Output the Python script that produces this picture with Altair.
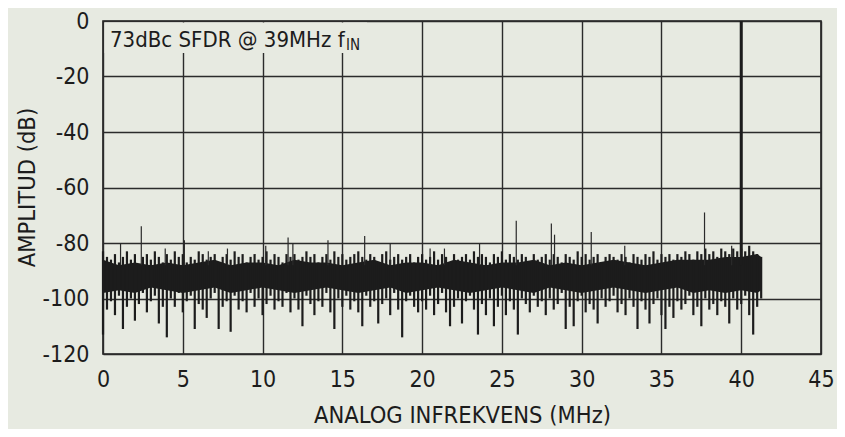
import altair as alt
import pandas as pd

# ---------------- data ----------------
# noise envelope per 0.25 MHz bin, 0 ... 41.25 MHz
noise_hi = [
    -83, -85, -86, -84, -87, -85, -83, -86, -84, -88, -85, -84, -86, -83, -85, -87,
    -84, -86, -83, -85, -84, -87, -85, -86, -83, -84, -86, -85, -84, -87, -85, -84,
    -86, -83, -85, -84, -87, -85, -84, -86, -85, -83, -86, -84, -85, -87, -84, -85,
    -84, -86, -85, -83, -85, -84, -87, -85, -84, -86, -83, -85, -84, -86, -85, -84,
    -83, -85, -86, -84, -85, -87, -84, -83, -86, -85, -84, -86, -85, -84, -87, -85,
    -84, -86, -85, -83, -86, -84, -85, -87, -84, -86, -85, -84, -86, -83, -85, -84,
    -85, -87, -84, -85, -83, -86, -84, -85, -86, -84, -85, -87, -84, -86, -85, -84,
    -86, -84, -85, -87, -84, -85, -86, -83, -85, -84, -86, -85, -84, -87, -85, -84,
    -85, -86, -84, -85, -87, -84, -85, -86, -84, -85, -83, -86, -84, -85, -84, -86,
    -84, -85, -83, -84, -86, -83, -84, -82, -84, -83, -85, -82, -83, -84, -82, -83,
    -82, -83, -81, -83, -84, -85,
]
noise_lo = [
    -113, -104, -101, -106, -99, -111, -103, -100, -108, -102, -98, -105, -101, -99, -109, -103,
    -114, -100, -103, -98, -105, -101, -99, -111, -102, -104, -107, -100, -98, -111, -103, -101,
    -112, -99, -104, -101, -105, -98, -103, -100, -106, -102, -99, -104, -101, -103, -98, -105,
    -100, -104, -110, -99, -102, -106, -101, -103, -98, -105, -111, -100, -103, -99, -104, -101,
    -105, -110, -99, -103, -101, -109, -102, -100, -106, -98, -104, -114, -101, -99, -103, -105,
    -101, -104, -99, -106, -102, -98, -105, -110, -103, -100, -109, -101, -99, -104, -113, -102,
    -106, -100, -110, -103, -99, -106, -101, -104, -113, -100, -102, -105, -99, -103, -101, -106,
    -100, -104, -102, -98, -111, -103, -110, -101, -99, -105, -102, -104, -109, -100, -103, -101,
    -99, -105, -102, -106, -100, -103, -111, -101, -104, -109, -102, -100, -106, -111, -103, -107,
    -101, -104, -102, -99, -106, -103, -110, -100, -104, -102, -106, -101, -103, -109, -100, -104,
    -102, -99, -106, -113, -103, -100,
]
noise_freq = [i * 0.25 for i in range(len(noise_hi))]

# dense core of the noise floor (1 MHz steps, last point at 41.25 MHz)
core_freq = list(range(0, 42)) + [41.25]
core_top = [-86, -88, -87, -88, -87, -88, -87, -86, -88, -87, -87, -88, -86, -87, -87, -88,
            -87, -86, -88, -87, -87, -88, -86, -87, -88, -87, -87, -86, -88, -87, -88, -87,
            -86, -87, -88, -87, -86, -86, -86, -85, -85, -84, -85]
core_bot = [-98, -97, -98, -96, -97, -98, -97, -96, -98, -97, -96, -97, -98, -97, -96, -97,
            -98, -97, -96, -98, -97, -96, -97, -98, -97, -96, -97, -98, -96, -97, -98, -97,
            -96, -97, -98, -97, -96, -98, -97, -98, -97, -98, -97]

# spurs rising above the noise floor
spike_freq = [1.1, 2.4, 3.9, 5.1, 6.6, 7.8, 10.2, 11.6, 11.9, 14.1, 16.4, 18.0,
              20.5, 21.4, 23.6, 25.9, 28.1, 28.3, 30.6, 32.7, 37.7, 39.4]
spike_top = [-80, -74, -82, -79, -83, -82, -81, -78, -80, -79, -77.5, -80,
             -82, -82, -80, -72, -73, -77, -76, -81, -69, -81]
spike_base = -88

# fundamental tone
tone_freq = [40.0]
tone_top = [0]
tone_base = [-88]

x_ticks = [0, 5, 10, 15, 20, 25, 30, 35, 40, 45]
y_ticks = [-120, -100, -80, -60, -40, -20, 0]
annotation = "73dBc SFDR @ 39MHz f"
annotation_sub = "IN"
x_title = "ANALOG INFREKVENS (MHz)"
y_title = "AMPLITUD (dB)"

# ---------------- chart ----------------
FONT = "DejaVu Sans Condensed, Liberation Sans Narrow, sans-serif"
INK = "#1c1c1c"
BG = "#e7eae1"

noise_df = pd.DataFrame({"f": noise_freq, "hi": noise_hi, "lo": noise_lo})
core_df = pd.DataFrame({"f": core_freq, "top": core_top, "bot": core_bot})
spike_df = pd.DataFrame({"f": spike_freq, "top": spike_top, "base": [spike_base] * len(spike_freq)})
tone_df = pd.DataFrame({"f": tone_freq, "top": tone_top, "base": tone_base})

xscale = alt.Scale(domain=[0, 45], nice=False, zero=False)
yscale = alt.Scale(domain=[-120, 0], nice=False, zero=False)

xaxis = alt.Axis(values=x_ticks, title=x_title, grid=True, tickSize=0, domain=False,
                 labelFlush=False, labelOverlap=False, labelPadding=14,
                 labelExpr="'' + datum.value",
                 titleY=68, titleBaseline="alphabetic")
yaxis = alt.Axis(values=y_ticks, title=y_title, grid=True, tickSize=0, domain=False,
                 labelFlush=False, labelOverlap=False, labelPadding=14, labelBaseline="middle",
                 labelExpr="'' + datum.value",
                 titleX=-76, titleY=166, titleBaseline="middle", titleAlign="center")

core = alt.Chart(core_df).mark_area(color=INK, opacity=1).encode(
    x=alt.X("f:Q", scale=xscale, axis=xaxis),
    y=alt.Y("top:Q", scale=yscale, axis=yaxis),
    y2="bot:Q",
)

noise = alt.Chart(noise_df).mark_rule(color=INK, strokeWidth=2.2).encode(
    x=alt.X("f:Q", scale=xscale),
    y=alt.Y("hi:Q", scale=yscale),
    y2="lo:Q",
)

spikes = alt.Chart(spike_df).mark_rule(color="#2a2a2a", strokeWidth=1.2).encode(
    x=alt.X("f:Q", scale=xscale),
    y=alt.Y("top:Q", scale=yscale),
    y2="base:Q",
)

tone = alt.Chart(tone_df).mark_rule(color=INK, strokeWidth=3).encode(
    x=alt.X("f:Q", scale=xscale),
    y=alt.Y("top:Q", scale=yscale),
    y2="base:Q",
)

mask = alt.Chart(pd.DataFrame({"k": [0]})).mark_rect(color=BG).encode(
    x=alt.value(1.5), x2=alt.value(264), y=alt.value(1.5), y2=alt.value(32)
)

label = alt.Chart(pd.DataFrame({"t": [annotation]})).mark_text(
    align="left", baseline="alphabetic", font=FONT, fontSize=22, color=INK
).encode(text="t:N", x=alt.value(7), y=alt.value(26))

label_sub = alt.Chart(pd.DataFrame({"t": [annotation_sub]})).mark_text(
    align="left", baseline="alphabetic", font=FONT, fontSize=15, color=INK
).encode(text="t:N", x=alt.value(243), y=alt.value(29))

chart = alt.layer(core, noise, spikes, tone, mask, label, label_sub).properties(
    width=718, height=333,
    autosize=alt.AutoSizeParams(type="none"),
    padding={"left": 95, "top": 13, "right": 16, "bottom": 75},
).configure(background=BG).configure_view(
    stroke=INK, strokeWidth=1.6, fill=BG
).configure_axis(
    gridColor="#2b2b2b", gridWidth=1.4, gridOpacity=1,
    labelFont=FONT, labelFontSize=23, labelColor=INK,
    titleFont=FONT, titleFontSize=23.5, titleFontWeight="normal", titleColor=INK,
)

chart.save("out.html", embed_options={"renderer": "svg", "actions": False})
